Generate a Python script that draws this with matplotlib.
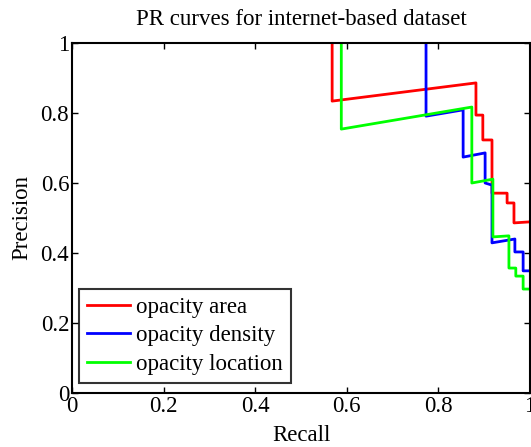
import matplotlib
matplotlib.use("Agg")
import matplotlib.pyplot as plt

recall_area = [0.568, 0.568, 0.882, 0.882, 0.897, 0.897, 0.917, 0.917, 0.950, 0.950, 0.965, 0.965, 1.0]
prec_area = [1.0, 0.834, 0.886, 0.794, 0.794, 0.723, 0.723, 0.571, 0.571, 0.543, 0.543, 0.486, 0.489]

recall_density = [0.773, 0.773, 0.854, 0.854, 0.902, 0.902, 0.917, 0.917, 0.967, 0.967, 0.985, 0.985, 1.0]
prec_density = [1.0, 0.791, 0.809, 0.674, 0.686, 0.600, 0.594, 0.429, 0.440, 0.403, 0.403, 0.349, 0.349]

recall_location = [0.588, 0.588, 0.873, 0.873, 0.919, 0.919, 0.954, 0.954, 0.969, 0.969, 0.985, 0.985, 1.0]
prec_location = [1.0, 0.754, 0.817, 0.600, 0.611, 0.446, 0.449, 0.357, 0.357, 0.334, 0.334, 0.297, 0.297]

labels = ["opacity area", "opacity density", "opacity location"]
colors = ["#ff0000", "#0000ff", "#00ff00"]
ticks = [0, 0.2, 0.4, 0.6, 0.8, 1]
tick_labels = ["0", "0.2", "0.4", "0.6", "0.8", "1"]

plt.rcParams['font.family'] = ['Liberation Serif', 'DejaVu Serif']
fs = 16.5

fig = plt.figure(figsize=(5.31, 4.47), dpi=100)
ax = fig.add_axes([72/531, 1 - 393/447, 458/531, 350/447])

for r, p, lab, c in zip([recall_area, recall_density, recall_location],
                        [prec_area, prec_density, prec_location], labels, colors):
    ax.plot(r, p, color=c, lw=2.0, label=lab)

ax.set_xlim(0, 1)
ax.set_ylim(0, 1)
ax.set_xticks(ticks)
ax.set_xticklabels(tick_labels)
ax.set_yticks(ticks)
ax.set_yticklabels(tick_labels)
ax.tick_params(direction='in', top=True, right=True, labelsize=fs, length=4, width=1, pad=2)
for s in ax.spines.values():
    s.set_linewidth(1.5)
ax.set_title("PR curves for internet-based dataset", fontsize=fs, pad=13)
ax.set_xlabel("Recall", fontsize=fs, labelpad=6)
ax.set_ylabel("Precision", fontsize=fs, labelpad=6)

leg = ax.legend(loc='lower left', bbox_to_anchor=(0.015, 0.029), fontsize=fs,
                frameon=True, fancybox=False, edgecolor='black', borderpad=0.35,
                labelspacing=0.33, handlelength=1.9, handletextpad=0.25, borderaxespad=0)
leg.get_frame().set_linewidth(1.5)

fig.savefig("out.png", dpi=100)
